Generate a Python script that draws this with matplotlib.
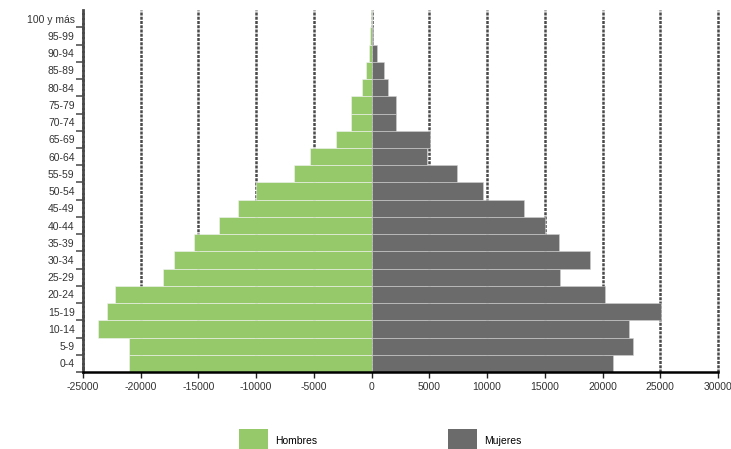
import numpy as np
import matplotlib
matplotlib.use('Agg')
import matplotlib.pyplot as plt
from matplotlib.patches import Patch

# age groups, bottom to top
ages = ['0-4', '5-9', '10-14', '15-19', '20-24', '25-29', '30-34', '35-39',
        '40-44', '45-49', '50-54', '55-59', '60-64', '65-69', '70-74',
        '75-79', '80-84', '85-89', '90-94', '95-99', '100 y más']
hombres = [21000, 21000, 23700, 22900, 22200, 18100, 17100, 15400, 13200,
           11600, 10000, 6700, 5300, 3100, 1800, 1800, 800, 500, 250, 100, 50]
mujeres = [20900, 22600, 22300, 25100, 20200, 16300, 18900, 16200, 15000,
           13200, 9650, 7400, 4800, 5100, 2150, 2150, 1450, 1100, 500, 150, 50]
xticks = [-25000, -20000, -15000, -10000, -5000, 0, 5000, 10000, 15000,
          20000, 25000, 30000]

green = '#95c96a'
gray = '#6b6b6b'

plt.rcParams['font.family'] = ['Liberation Sans', 'DejaVu Sans']

fig = plt.figure(figsize=(7.31, 4.49), dpi=100)
ax = fig.add_axes([0.1135, 0.1715, 0.8687, 0.806])

y = np.arange(len(ages))
ax.barh(y, [-v for v in hombres], height=1.0, color=green,
        edgecolor='#f4f4f4', linewidth=0.4, zorder=2)
ax.barh(y, mujeres, height=1.0, color=gray,
        edgecolor='#d0d0d0', linewidth=0.4, zorder=2)

# vertical grid lines
for t in xticks[1:]:
    ax.axvline(t, color='#4a4a4a', linewidth=1.8, linestyle=(0, (1.2, 0.5)),
               zorder=1, clip_on=False)

ax.set_xlim(-25000, 30000)
ax.set_ylim(-0.5, len(ages) - 0.5)
ax.set_xticks(xticks)
ax.set_xticklabels([str(t) for t in xticks], fontsize=7.5, color='#333333')
ax.set_yticks(y)
ax.set_yticklabels(ages, fontsize=7.5, color='#333333')
ax.set_yticks(np.arange(len(ages)) - 0.5, minor=True)
ax.tick_params(axis='y', which='major', length=0, pad=6)
ax.tick_params(axis='y', which='minor', length=5, width=1.2, color='#555555')
ax.tick_params(axis='x', length=4, width=1, color='#222222', pad=3)

for s in ['top', 'right']:
    ax.spines[s].set_visible(False)
ax.spines['left'].set_color('#4a4a4a')
ax.spines['left'].set_linewidth(2.0)
ax.spines['left'].set_linestyle((0, (1.2, 0.5)))
ax.spines['bottom'].set_color('black')
ax.spines['bottom'].set_linewidth(1.8)
ax.spines['bottom'].set_zorder(3)

handles = [Patch(facecolor=green, label='Hombres'),
           Patch(facecolor=gray, label='Mujeres')]
fig.legend(handles=handles, loc='lower center', ncol=2, frameon=False,
           bbox_to_anchor=(0.52, -0.03), fontsize=7.5, handlelength=2.8,
           handleheight=3.2, columnspacing=12.5, handletextpad=0.7)

fig.savefig('out.png', dpi=100, facecolor='white')
